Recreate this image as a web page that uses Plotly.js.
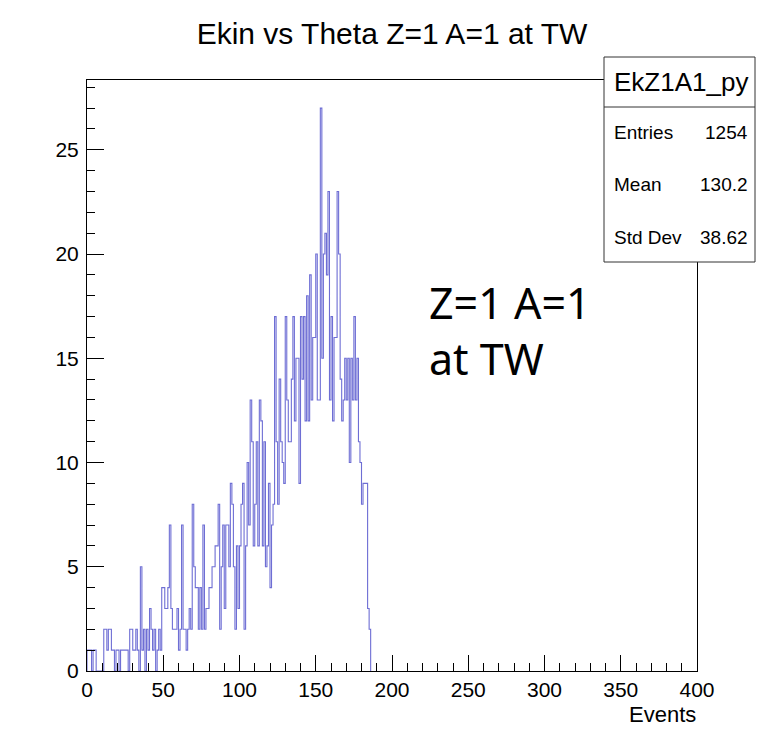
<!DOCTYPE html>
<html>
<head>
<meta charset="utf-8">
<script src="https://cdn.plot.ly/plotly-3.0.1.min.js"></script>
<style>html,body{margin:0;padding:0;background:#fff;}#plot{width:762px;height:741px;}</style>
</head>
<body>
<div id="plot"></div>
<script>
// Histogram EkZ1A1_py : 400 bins from 0 to 400 (bin width 1), contents
const binLow = 0;
const binWidth = 1;
const counts = [
  // 0-30
  1,1,1,0,1,1,0,0,0,0,0,2,2,1,2,2,1,1,0,1,1,0,1,1,1,1,1,0,2,2,1,
  // 31-63
  1,2,1,0,5,1,2,0,2,1,3,2,1,2,0,1,2,1,4,4,3,3,4,7,3,2,2,2,3,1,2,7,2,
  // 64-93
  2,1,2,3,2,8,5,4,4,2,4,2,7,2,3,3,4,4,5,5,6,6,8,2,5,7,3,7,7,5,
  // 94-124
  9,8,5,2,6,3,6,8,9,2,6,10,7,13,11,6,8,11,6,13,12,6,11,5,6,9,4,7,8,17,11,
  // 125-155
  8,14,11,10,9,17,13,11,11,14,17,12,15,15,9,17,14,17,12,18,12,19,13,16,16,20,13,13,27,15,20,
  // 156-185
  21,19,23,13,17,12,16,16,23,20,14,12,13,15,13,15,10,15,13,17,13,15,11,10,8,9,9,9,3,2
];
const xTickVals = [0,50,100,150,200,250,300,350,400];
const yTickVals = [0,5,10,15,20,25];
const titleText = "Ekin vs Theta Z=1 A=1 at TW";
const xTitle = "Events";
const statsName = "EkZ1A1_py";
const statsLabels = ["Entries","Mean","Std Dev"];
const statsValues = ["1254","130.2","38.62"];
const noteLines = ["Z=1 A=1","at TW"];

// step outline (ROOT "HIST" style)
const xs = [], ys = [];
xs.push(binLow); ys.push(0);
for (let i = 0; i < counts.length; i++) {
  xs.push(binLow + i*binWidth); ys.push(counts[i]);
}
xs.push(binLow + counts.length*binWidth); ys.push(counts[counts.length-1]);
xs.push(binLow + counts.length*binWidth); ys.push(0);

const ymax = Math.max(...counts)*1.05;

const trace = {
  x: xs, y: ys, type: 'scatter', mode: 'lines',
  line: {shape: 'hv', color: 'rgba(85,85,205,0.85)', width: 1.1},
  hoverinfo: 'skip', showlegend: false
};

const font = 'Liberation Sans, Arial, Helvetica, sans-serif';
const L=87, R=697, T=80, B=671, W=R-L, H=B-T;
const px = x => (x-L)/W;
const py = y => (B-y)/H;

const annotations = [
  {text: xTitle, xref:'paper', yref:'paper', x: px(698), y: py(714), xanchor:'right', yanchor:'middle', showarrow:false, font:{family:font, size:22, color:'#000'}},
  {text: statsName, xref:'paper', yref:'paper', x: px(681), y: py(82), xanchor:'center', yanchor:'middle', showarrow:false, font:{family:font, size:26, color:'#000'}}
];
const rowY = [132,184,237];
for (let i=0;i<statsLabels.length;i++){
  annotations.push({text: statsLabels[i], xref:'paper', yref:'paper', x: px(612), y: py(rowY[i]), xanchor:'left', yanchor:'middle', showarrow:false, font:{family:font, size:19, color:'#000'}});
  annotations.push({text: statsValues[i], xref:'paper', yref:'paper', x: px(750), y: py(rowY[i]), xanchor:'right', yanchor:'middle', showarrow:false, font:{family:font, size:19, color:'#000'}});
}
annotations.push({text: noteLines[0], xref:'paper', yref:'paper', x: px(427), y: py(302), xanchor:'left', yanchor:'middle', showarrow:false, font:{family:'Noto Sans, sans-serif', size:43, color:'#000'}});
annotations.push({text: noteLines[1], xref:'paper', yref:'paper', x: px(427), y: py(358), xanchor:'left', yanchor:'middle', showarrow:false, font:{family:'Noto Sans, sans-serif', size:43, color:'#000'}});

const shapes = [
  {type:'rect', xref:'paper', yref:'paper', x0: px(604), x1: px(755), y0: py(262), y1: py(57), line:{color:'#333', width:1}, fillcolor:'#fff', layer:'above'},
  {type:'line', xref:'paper', yref:'paper', x0: px(604), x1: px(755), y0: py(107), y1: py(107), line:{color:'#333', width:1}, layer:'above'}
];

const layout = {
  width: 762, height: 741,
  margin: {l: L, r: 762-R, t: T, b: 741-B, pad: 0},
  paper_bgcolor: '#fff', plot_bgcolor: '#fff',
  title: {text: titleText, x: 392/762, xanchor:'center', y: 1-33/741, yanchor:'middle', font:{family:font, size:30, color:'#000'}},
  xaxis: {
    range: [0, 400], tickvals: xTickVals, ticktext: xTickVals.map(String),
    ticks: 'inside', ticklen: 16, tickwidth: 1, tickcolor: '#000',
    minor: {dtick: 10, ticks:'inside', ticklen: 8, tickcolor:'#000', tickwidth:1, showgrid:false},
    showgrid: false, zeroline: false, showline: true, mirror: true, linecolor: '#000', linewidth: 1,
    tickfont: {family: font, size: 21, color: '#000'}
  },
  yaxis: {
    range: [0, ymax], tickvals: yTickVals, ticktext: yTickVals.map(String),
    ticks: 'inside', ticklen: 17, tickwidth: 1, tickcolor: '#000',
    minor: {dtick: 1, ticks:'inside', ticklen: 8, tickcolor:'#000', tickwidth:1, showgrid:false},
    showgrid: false, zeroline: false, showline: true, mirror: true, linecolor: '#000', linewidth: 1,
    tickfont: {family: font, size: 21, color: '#000'}, ticklabelstandoff: 3
  },
  annotations: annotations,
  shapes: shapes
};

Plotly.newPlot('plot', [trace], layout, {staticPlot: true, displayModeBar: false});
</script>
</body>
</html>
